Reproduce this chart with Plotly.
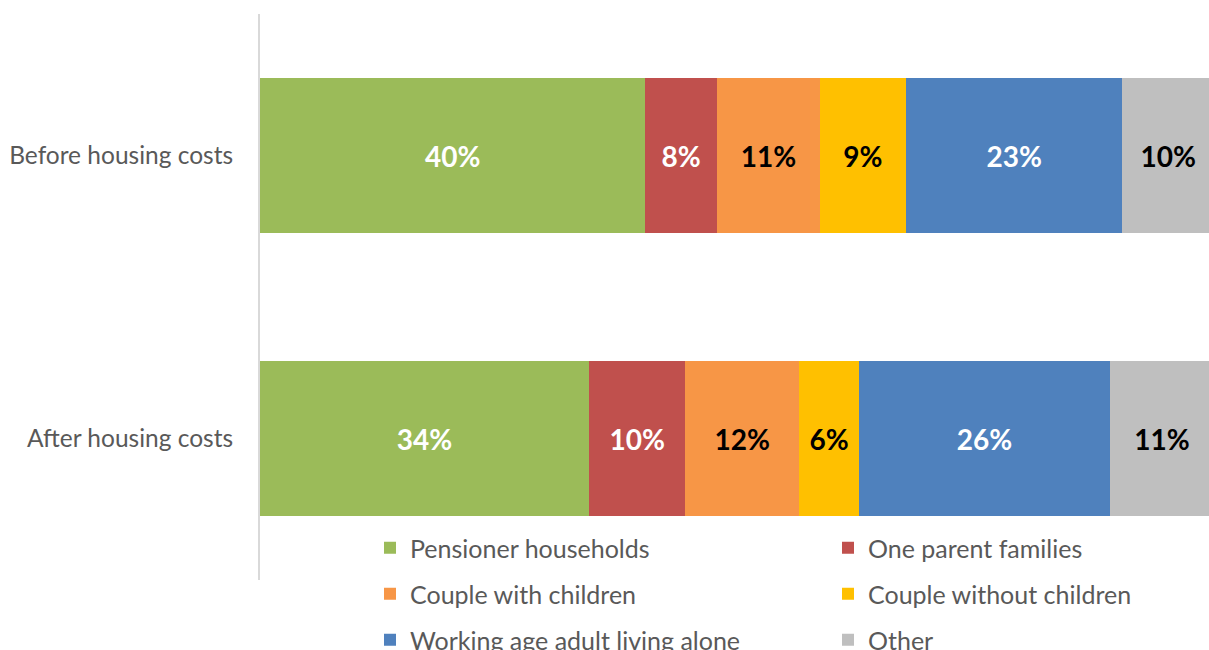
import plotly.graph_objects as go

categories = ["Before housing costs", "After housing costs"]
series_names = ["Pensioner households", "One parent families", "Couple with children",
                "Couple without children", "Working age adult living alone", "Other"]
pensioner = [40.4, 34.5]
one_parent = [7.5, 10.1]
couple_children = [10.8, 11.9]
couple_no_children = [9.0, 6.3]
working_age_alone = [22.7, 26.3]
other = [9.6, 10.9]

pensioner_labels = ["40%", "34%"]
one_parent_labels = ["8%", "10%"]
couple_children_labels = ["11%", "12%"]
couple_no_children_labels = ["9%", "6%"]
working_age_alone_labels = ["23%", "26%"]
other_labels = ["10%", "11%"]

series_values = [pensioner, one_parent, couple_children, couple_no_children, working_age_alone, other]
series_labels = [pensioner_labels, one_parent_labels, couple_children_labels,
                 couple_no_children_labels, working_age_alone_labels, other_labels]
colors = ["#9BBB59", "#C0504D", "#F79646", "#FFC000", "#4F81BD", "#BFBFBF"]
text_colors = ["white", "white", "black", "black", "white", "black"]

FONT = "Lato"
W, H = 1209, 650

# legend slot positions (pixels): column x of legend box, row centre y
legend_cols = [370, 828]
legend_rows = [548, 594, 640]

PLOT_LEFT = 259.5
PX_PER_PCT = 9.545
x_max = (W - PLOT_LEFT) / PX_PER_PCT  # chart continues past the right edge

fig = go.Figure()
legend_layouts = {}
for i, (name, vals, labs, col, tcol) in enumerate(zip(series_names, series_values, series_labels,
                                                      colors, text_colors)):
    lid = "legend" if i == 0 else f"legend{i + 1}"
    fig.add_trace(go.Bar(
        y=categories, x=vals, name=name, orientation="h",
        marker=dict(color=col, line=dict(width=0)),
        text=labs, textposition="inside", insidetextanchor="middle",
        textangle=0, constraintext="none",
        textfont=dict(family=FONT, size=28, color=tcol, weight="bold"),
        width=0.545, legend=lid, hoverinfo="skip",
    ))
    cx = legend_cols[i % 2]
    cy = legend_rows[i // 2]
    legend_layouts[lid] = dict(
        orientation="v", xref="container", yref="container",
        x=cx / W, xanchor="left", y=1 - cy / H, yanchor="middle",
        font=dict(family=FONT, size=25, color="#595959"),
        bgcolor="rgba(0,0,0,0)", borderwidth=0, traceorder="normal",
    )

fig.update_layout(
    width=W, height=H,
    barmode="stack",
    paper_bgcolor="white", plot_bgcolor="white",
    margin=dict(l=PLOT_LEFT, r=0, t=14, b=H - 580, autoexpand=False),
    xaxis=dict(range=[0, x_max], visible=False, showgrid=False, zeroline=False),
    yaxis=dict(autorange="reversed", showline=True, linecolor="#D9D9D9", linewidth=2,
               showgrid=False, ticks="", ticklabelstandoff=20,
               tickfont=dict(family=FONT, size=24.5, color="#595959")),
    showlegend=True,
    **legend_layouts,
)

fig.write_html("out.html", config={"displayModeBar": False},
               post_script="document.body.style.margin='0';")
